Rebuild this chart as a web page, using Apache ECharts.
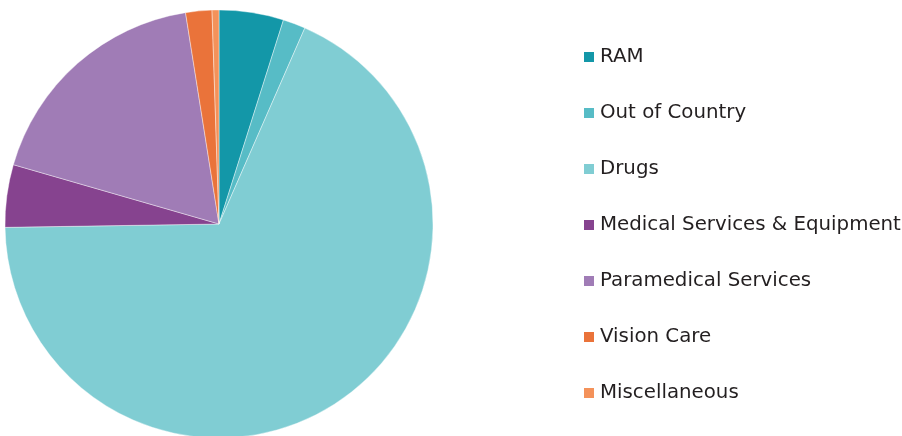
<!DOCTYPE html>
<html><head><meta charset="utf-8">
<script src="https://cdn.jsdelivr.net/npm/echarts@6/dist/echarts.min.js"></script>
<style>html,body{margin:0;padding:0;background:#fff}#c{width:902px;height:436px}</style>
</head><body><div id="c"></div>
<script>
const categories = ["RAM","Out of Country","Drugs","Medical Services & Equipment","Paramedical Services","Vision Care","Miscellaneous"];
const values = [4.87, 1.7, 68.18, 4.72, 18.03, 1.98, 0.52];
const colors = ["#1397A8","#57BCC6","#80CDD3","#86438F","#A07CB6","#EA733A","#F4925A"];
const chart = echarts.init(document.getElementById('c'), null, {renderer:'canvas'});
chart.setOption({
  animation:false,
  color: colors,
  legend:{
    orient:'vertical', left:582, top:47, padding:0,
    itemWidth:12, itemHeight:12, itemGap:36,
    icon:'rect',
    textStyle:{fontFamily:'DejaVu Sans', fontSize:19.8, lineHeight:20, color:'#231f20'},
    data: categories
  },
  series:[{
    type:'pie', center:[219,224], radius:214, startAngle:90, clockwise:true,
    label:{show:false}, labelLine:{show:false},
    itemStyle:{borderColor:'#fff', borderWidth:0.4},
    emphasis:{disabled:true},
    data: categories.map((n,i)=>({name:n, value:values[i]}))
  }]
});
</script></body></html>
